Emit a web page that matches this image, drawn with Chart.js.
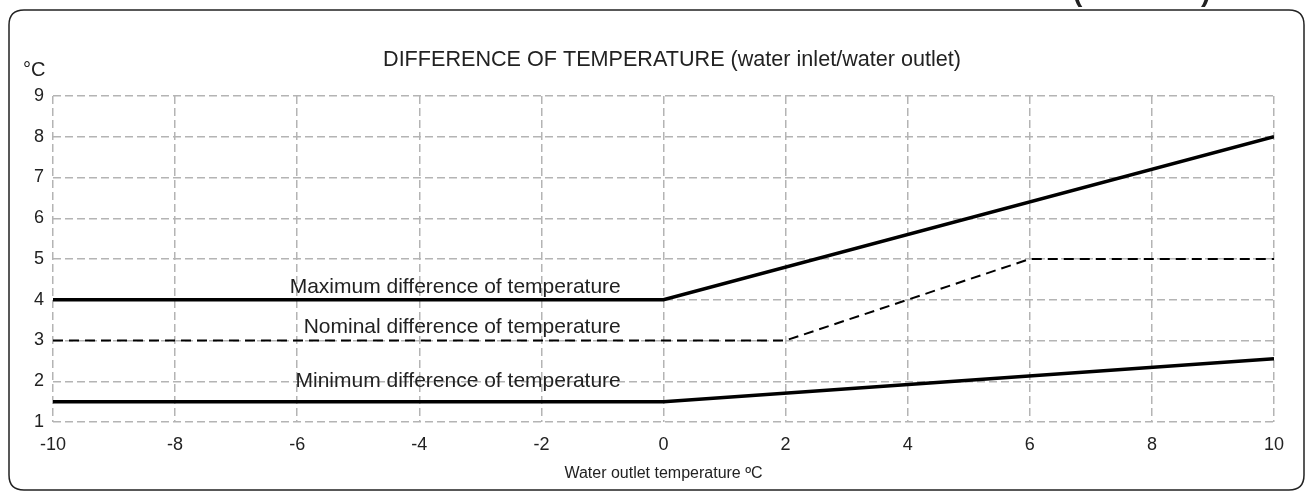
<!DOCTYPE html>
<html><head><meta charset="utf-8">
<script src="https://cdn.jsdelivr.net/npm/chart.js@4.4.0/dist/chart.umd.min.js"></script>
<style>html,body{margin:0;padding:0;background:#fff;overflow:hidden}#wrap{width:1306px;height:493px;position:relative}</style>
</head><body><div id="wrap"><canvas id="c" width="1306" height="493"></canvas></div>
<script>
// ---- data ----
const xTicks = [-10, -8, -6, -4, -2, 0, 2, 4, 6, 8, 10];
const yTicks = [1, 2, 3, 4, 5, 6, 7, 8, 9];
const maxX = [-10, 0, 10];
const maxY = [4, 4, 8];
const nomX = [-10, 2, 6, 10];
const nomY = [3, 3, 5, 5];
const minX = [-10, 0, 10];
const minY = [1.5, 1.5, 2.55];
const seriesLabels = ['Maximum difference of temperature', 'Nominal difference of temperature', 'Minimum difference of temperature'];
const labelAnchorX = [-0.7, -0.7, -0.7];
const labelAnchorY = [4.32, 3.33, 2.0];
const chartTitle = 'DIFFERENCE OF TEMPERATURE (water inlet/water outlet)';
const yUnit = '°C';
const xTitle = 'Water outlet temperature ºC';

const FAM = '"Liberation Sans", Arial, Helvetica, sans-serif';
const TXT = '#222';

function pts(xs, ys) { return xs.map((x, i) => ({ x: x, y: ys[i] })); }

const deco = {
  id: 'deco',
  beforeDraw(chart) {
    const c = chart.ctx;
    c.save();
    c.fillStyle = '#fff';
    c.fillRect(0, 0, chart.width, chart.height);
    // rounded frame
    const x0 = 9, y0 = 10, x1 = 1304, y1 = 490, r = 15;
    c.beginPath();
    c.moveTo(x0 + r, y0);
    c.lineTo(x1 - r, y0);
    c.quadraticCurveTo(x1, y0, x1, y0 + r);
    c.lineTo(x1, y1 - r);
    c.quadraticCurveTo(x1, y1, x1 - r, y1);
    c.lineTo(x0 + r, y1);
    c.quadraticCurveTo(x0, y1, x0, y1 - r);
    c.lineTo(x0, y0 + r);
    c.quadraticCurveTo(x0, y0, x0 + r, y0);
    c.lineWidth = 1.5;
    c.strokeStyle = '#222';
    c.stroke();
    // cut-off heading above the frame (only parentheses descenders visible)
    c.fillStyle = '#222';
    c.font = 'bold 28px ' + FAM;
    c.textBaseline = 'alphabetic';
    c.textAlign = 'left';
    c.fillText('(', 1073, 1);
    c.fillText(')', 1201, 1);
    c.restore();
  },
  afterDraw(chart) {
    const c = chart.ctx;
    const xs = chart.scales.x, ys = chart.scales.y;
    c.save();
    c.fillStyle = TXT;
    c.textBaseline = 'middle';
    c.textAlign = 'center';
    c.font = '21.6px ' + FAM;
    c.fillText(chartTitle, 672, 60);
    c.textAlign = 'left';
    c.font = '20px ' + FAM;
    c.fillText(yUnit, 23, 70);
    c.textAlign = 'center';
    c.font = '16px ' + FAM;
    c.fillText(xTitle, (chart.chartArea.left + chart.chartArea.right) / 2, 474);
    c.textAlign = 'right';
    c.font = '21px ' + FAM;
    for (let i = 0; i < seriesLabels.length; i++) {
      c.fillText(seriesLabels[i], xs.getPixelForValue(labelAnchorX[i]), ys.getPixelForValue(labelAnchorY[i]));
    }
    c.restore();
  }
};

const gridCfg = { color: '#b4b4b4', lineWidth: 1.5, drawTicks: false };
const borderCfg = { display: false, dash: [8, 4] };

new Chart(document.getElementById('c').getContext('2d'), {
  type: 'line',
  data: {
    datasets: [
      { label: seriesLabels[0], data: pts(maxX, maxY), borderColor: '#000', borderWidth: 3.5, pointRadius: 0, tension: 0, fill: false },
      { label: seriesLabels[1], data: pts(nomX, nomY), borderColor: '#000', borderWidth: 2, borderDash: [10, 6], pointRadius: 0, tension: 0, fill: false },
      { label: seriesLabels[2], data: pts(minX, minY), borderColor: '#000', borderWidth: 3.5, pointRadius: 0, tension: 0, fill: false }
    ]
  },
  options: {
    responsive: false,
    animation: false,
    layout: { padding: { top: 96, right: 32, bottom: 0, left: 0 } },
    plugins: { legend: { display: false }, tooltip: { enabled: false }, title: { display: false } },
    scales: {
      x: {
        type: 'linear', min: -10, max: 10,
        afterBuildTicks: s => { s.ticks = xTicks.map(v => ({ value: v })); },
        ticks: { padding: 12, color: TXT, font: { size: 18, family: FAM }, maxRotation: 0, autoSkip: false },
        grid: gridCfg, border: borderCfg,
        afterFit: s => { s.height = 71; }
      },
      y: {
        type: 'linear', min: 1, max: 9,
        afterBuildTicks: s => { s.ticks = yTicks.map(v => ({ value: v })); },
        ticks: { padding: 9, color: TXT, font: { size: 18, family: FAM }, autoSkip: false },
        grid: gridCfg, border: borderCfg,
        afterFit: s => { s.width = 53; }
      }
    }
  },
  plugins: [deco]
});
</script></body></html>
